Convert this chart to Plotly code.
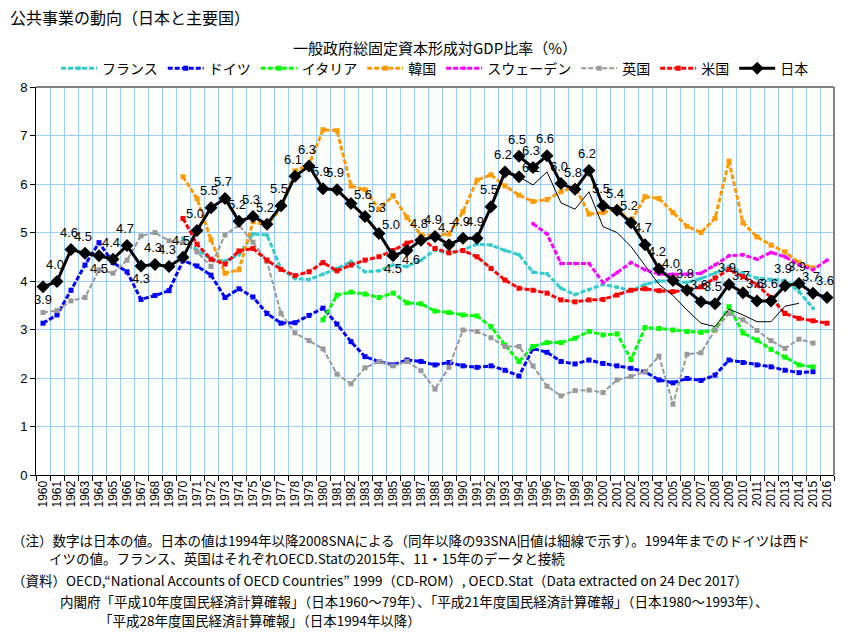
import plotly.graph_objects as go

# ---------------- data ----------------
years = [str(y) for y in range(1960, 2017)]

france_start = 1970
france = [4.88, 4.64, 4.45, 4.41, 4.54, 4.97, 4.95, 4.25, 4.05, 4.03,
          4.14, 4.26, 4.40, 4.19, 4.21, 4.33, 4.30, 4.43, 4.64, 4.57,
          4.64, 4.76, 4.74, 4.63, 4.54, 4.18, 4.15, 3.85, 3.72, 3.82,
          3.93, 3.87, 3.80, 3.93, 4.00, 4.00, 3.97, 4.05, 4.16, 4.30,
          4.16, 4.06, 4.03, 4.01, 3.78, 3.44]

germany_start = 1960
germany = [3.13, 3.30, 3.81, 4.33, 4.79, 4.38, 4.19, 3.62, 3.70, 3.80,
           4.42, 4.31, 4.12, 3.66, 3.84, 3.67, 3.33, 3.13, 3.14, 3.29,
           3.44, 3.11, 2.75, 2.44, 2.34, 2.27, 2.37, 2.34, 2.27, 2.32,
           2.25, 2.22, 2.25, 2.16, 2.04, 2.61, 2.53, 2.34, 2.29, 2.37,
           2.30, 2.25, 2.20, 2.13, 1.96, 1.90, 1.99, 1.95, 2.06, 2.37,
           2.32, 2.27, 2.23, 2.16, 2.11, 2.13]

italy_start = 1980
italy = [3.20, 3.71, 3.77, 3.73, 3.66, 3.75, 3.55, 3.53, 3.38, 3.35,
         3.30, 3.28, 3.06, 2.68, 2.34, 2.65, 2.73, 2.73, 2.82, 2.96,
         2.89, 2.91, 2.38, 3.04, 3.02, 2.99, 2.96, 2.94, 2.99, 3.47,
         2.93, 2.78, 2.59, 2.43, 2.27, 2.23]

korea_start = 1970
korea = [6.15, 5.70, 4.85, 4.16, 4.23, 5.22, 5.15, 5.50, 6.27, 6.40,
         7.12, 7.10, 5.96, 5.88, 5.48, 5.76, 5.31, 4.95, 4.95, 4.97,
         5.43, 6.08, 6.19, 5.96, 5.77, 5.64, 5.68, 5.84, 5.95, 5.38,
         5.41, 5.50, 5.22, 5.74, 5.70, 5.41, 5.13, 5.00, 5.29, 6.47,
         5.20, 4.91, 4.74, 4.60, 4.38, 4.27]

sweden_start = 1995
sweden = [5.18, 4.97, 4.36, 4.36, 4.36, 3.97, 4.17, 4.38, 4.23, 4.14,
          4.14, 4.14, 4.16, 4.33, 4.52, 4.54, 4.45, 4.59, 4.50, 4.33,
          4.23, 4.43]

uk_start = 1960
uk = [3.35, 3.39, 3.59, 3.66, 4.23, 4.16, 4.43, 4.93, 5.00, 4.83,
      4.80, 4.60, 4.30, 4.95, 5.15, 4.80, 4.40, 3.33, 2.93, 2.77,
      2.60, 2.08, 1.88, 2.21, 2.34, 2.25, 2.34, 2.15, 1.77, 2.22,
      2.99, 2.96, 2.83, 2.65, 2.65, 2.25, 1.83, 1.63, 1.74, 1.75,
      1.70, 1.96, 2.03, 2.13, 2.45, 1.46, 2.49, 2.52, 2.99, 3.33,
      3.20, 2.98, 2.77, 2.61, 2.80, 2.72]

us_start = 1970
us = [5.29, 4.76, 4.45, 4.35, 4.62, 4.67, 4.43, 4.24, 4.11, 4.19,
      4.38, 4.21, 4.33, 4.43, 4.50, 4.63, 4.78, 4.88, 4.67, 4.58,
      4.63, 4.50, 4.26, 4.02, 3.85, 3.81, 3.75, 3.61, 3.57, 3.61,
      3.62, 3.71, 3.81, 3.84, 3.80, 3.78, 3.81, 3.88, 4.06, 4.24,
      4.09, 3.92, 3.66, 3.33, 3.23, 3.18, 3.13]

# Japan: old series (to 1994), 2008SNA (1994-), 93SNA old values (thin line)
japan_old_start = 1960
japan_old = [3.88, 3.99, 4.65, 4.57, 4.52, 4.45, 4.73, 4.31, 4.34, 4.30,
             4.49, 5.04, 5.51, 5.70, 5.23, 5.33, 5.17, 5.55, 6.16, 6.37,
             5.90, 5.88, 5.60, 5.33, 4.98, 4.52, 4.63, 4.84, 4.92, 4.75,
             4.88, 4.88, 5.53, 6.25, 6.15]
japan_old_labels = ["3.9", "4.0", "4.6", "4.5", "4.5", "4.4", "4.7", "4.3", "4.3", "4.3",
                    "4.5", "5.0", "5.5", "5.7", "5.2", "5.3", "5.2", "5.5", "6.1", "6.3",
                    "5.9", "5.9", "5.6", "5.3", "5.0", "4.5", "4.6", "4.8", "4.9", "4.7",
                    "4.9", "4.9", "5.5", "6.2", "6.1"]

japan_new_start = 1994
japan_new = [6.57, 6.34, 6.58, 6.01, 5.89, 6.28, 5.55, 5.46, 5.20, 4.75,
             4.25, 4.01, 3.81, 3.57, 3.53, 3.93, 3.76, 3.59, 3.59, 3.90,
             3.95, 3.75, 3.66]
japan_new_labels = ["6.5", "6.3", "6.6", "6.0", "5.8", "6.2", "5.5", "5.4", "5.2", "4.7",
                    "4.2", "4.0", "3.8", "3.6", "3.5", "3.9", "3.7", "3.6", "3.6", "3.9",
                    "3.9", "3.7", "3.6"]

japan_93sna_start = 1994
japan_93sna = [6.15, 5.98, 6.25, 5.61, 5.48, 5.84, 5.12, 5.00, 4.71, 4.33,
               3.93, 3.70, 3.40, 3.13, 3.06, 3.42, 3.30, 3.16, 3.16, 3.48,
               3.54]

series_names = ["フランス", "ドイツ", "イタリア", "韓国", "スウェーデン", "英国", "米国", "日本"]

title_text = "公共事業の動向（日本と主要国）"
subtitle_text = "一般政府総固定資本形成対GDP比率（%）"
notes = [
    "（注）数字は日本の値。日本の値は1994年以降2008SNAによる（同年以降の93SNA旧値は細線で示す）。1994年までのドイツは西ド",
    "イツの値。フランス、英国はそれぞれOECD.Statの2015年、11・15年のデータと接続",
    "（資料）OECD,“National Accounts of OECD Countries” 1999（CD-ROM）, OECD.Stat（Data extracted on 24 Dec 2017）",
    "内閣府「平成10年度国民経済計算確報」（日本1960～79年）、「平成21年度国民経済計算確報」（日本1980～1993年）、",
    "「平成28年度国民経済計算確報」（日本1994年以降）",
]


def pad(start, vals):
    out = [None] * len(years)
    i0 = start - 1960
    for i, v in enumerate(vals):
        out[i0 + i] = v
    return out


# ---------------- styling ----------------
JP = "Noto Sans CJK JP"
NUM = "Liberation Sans Narrow, Liberation Sans, sans-serif"
dash_main = "5px,2px"

fig = go.Figure()

colored = [
    (series_names[0], france_start, france, "#33CCCC", "circle", 4),
    (series_names[1], germany_start, germany, "#0000FF", "square", 5),
    (series_names[2], italy_start, italy, "#00FF00", "square", 5),
    (series_names[3], korea_start, korea, "#FF9900", "square", 5),
    (series_names[4], sweden_start, sweden, "#FF00FF", "circle", 4),
    (series_names[5], uk_start, uk, "#999999", "square", 5),
    (series_names[6], us_start, us, "#FF0000", "square", 5),
]
for name, st, vals, col, sym, ms in colored:
    lw = 2 if name == "英国" else 3
    fig.add_trace(go.Scatter(
        x=years, y=pad(st, vals), name=name, mode="lines+markers",
        line=dict(color=col, width=lw, dash=dash_main),
        marker=dict(color=col, symbol=sym, size=ms),
        connectgaps=False, hoverinfo="x+y+name"))

# Japan thin (93SNA)
fig.add_trace(go.Scatter(
    x=years, y=pad(japan_93sna_start, japan_93sna), mode="lines",
    line=dict(color="black", width=1), showlegend=False, name="日本(93SNA)"))
# Japan old
fig.add_trace(go.Scatter(
    x=years, y=pad(japan_old_start, japan_old), name=series_names[7],
    mode="lines+markers", line=dict(color="black", width=3),
    marker=dict(color="black", symbol="diamond", size=10)))
# Japan new
fig.add_trace(go.Scatter(
    x=years, y=pad(japan_new_start, japan_new), name=series_names[7],
    mode="lines+markers", line=dict(color="black", width=3),
    marker=dict(color="black", symbol="diamond", size=10), showlegend=False))

# data labels for Japan (x given as category index)
label_shift = {"t": (-2, 17), "b": (0, -13), "r": (12, 9), "br": (4, -9)}
old_pos = {1960: "b", 1964: "b", 1967: "b", 1985: "b", 1986: "br",
           1982: "r", 1983: "r", 1984: "r", 1994: "r"}
annotations = []
for st, vals, labs, pos in [(japan_old_start, japan_old, japan_old_labels, old_pos),
                            (japan_new_start, japan_new, japan_new_labels, {})]:
    for i, (v, t) in enumerate(zip(vals, labs)):
        yr = st + i
        p = pos.get(yr, "t")
        dx, dy = label_shift[p]
        annotations.append(dict(
            x=years.index(str(yr)), y=v, text=t, showarrow=False, xref="x", yref="y",
            xshift=dx, yshift=dy, font=dict(family=NUM, size=13, color="black")))

# subtitle
annotations.append(dict(text=subtitle_text, x=0.5, y=1.103, xref="paper", yref="paper",
                        showarrow=False, xanchor="center", yanchor="middle",
                        font=dict(family=JP, size=15, color="black")))

# notes
W, L, B, H = 798, 36, 475, 388
note_pos = [(10, 540), (47, 558), (10, 580), (58, 601), (97, 620)]
for txt, (px, py) in zip(notes, note_pos):
    annotations.append(dict(text=txt, x=(px - L) / W, y=(B - py) / H,
                            xref="paper", yref="paper", showarrow=False,
                            xanchor="left", yanchor="middle",
                            font=dict(family=JP, size=13.5, color="black")))

shapes = [
    dict(type="line", xref="paper", yref="paper", x0=0, x1=1, y0=1, y1=1,
         line=dict(color="#808080", width=2)),
    dict(type="line", xref="paper", yref="paper", x0=1, x1=1, y0=0, y1=1,
         line=dict(color="#808080", width=2)),
]

fig.update_layout(
    width=859, height=635,
    margin=dict(l=36, r=25, t=87, b=160, autoexpand=False),
    paper_bgcolor="white", plot_bgcolor="white",
    title=dict(text=title_text, x=10 / 859, xanchor="left", y=1 - 18 / 635,
               yanchor="middle", font=dict(family=JP, size=16, color="black")),
    font=dict(family=JP, color="black"),
    legend=dict(orientation="h", x=0.5, xanchor="center", y=1.047, yanchor="middle",
                font=dict(family=JP, size=14), itemwidth=36, tracegroupgap=0,
                bgcolor="rgba(0,0,0,0)"),
    xaxis=dict(type="category", tickson="boundaries", showgrid=True,
               gridcolor="#99CCFF", gridwidth=1, ticks="outside", ticklen=5,
               tickcolor="black", showline=True, linecolor="black", linewidth=1,
               tickangle=-90, tickfont=dict(family="Liberation Sans", size=12),
               range=[-0.5, len(years) - 0.5], zeroline=False),
    yaxis=dict(range=[0, 8], dtick=1, showgrid=True, gridcolor="#99CCFF",
               gridwidth=1, ticks="outside", ticklen=5, tickcolor="black",
               showline=True, linecolor="black", linewidth=1, zeroline=False,
               tickfont=dict(family="Liberation Sans", size=13)),
    annotations=annotations,
    shapes=shapes,
    showlegend=True,
)

fig.write_html("out.html", config={"displayModeBar": False},
               post_script="document.body.style.margin='0px';document.body.style.padding='0px';")
